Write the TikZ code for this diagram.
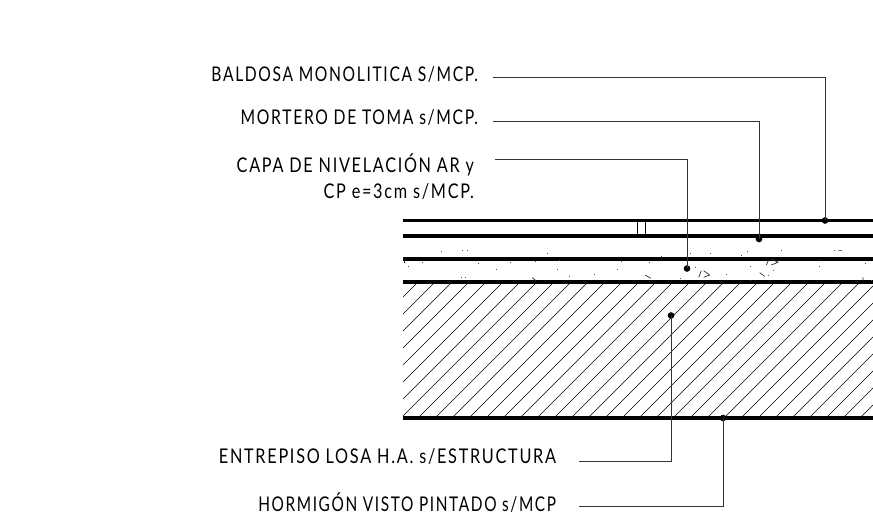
\documentclass[tikz,border=0pt]{standalone}
\usepackage{fontspec}
\newfontfamily\lblfont[LetterSpace=8,FakeStretch=0.76]{Lato}
\tikzset{
  lbl/.style={inner sep=0pt,outer sep=0pt,anchor=base east,transform shape,font=\lblfont\fontsize{15.2}{17}\selectfont,text=black},
  layer/.style={line width=2.6pt,black},
  leader/.style={line width=0.75pt,black!80},
  hatchline/.style={line width=0.5pt,black},
  pin/.style={circle,fill=black,inner sep=0pt,minimum size=5pt,outer sep=0pt},
  speck/.style={line width=0.5pt,black!85}
}
\begin{document}
\begin{tikzpicture}[x=0.75pt,y=-0.75pt]
\useasboundingbox (0,0) rectangle (873,516);
% hatch
\begin{scope}
\clip (403,282) rectangle (873,418);
\foreach \k in {0,...,36} {
  \draw[hatchline] ({418+17*\k},282) -- ({418+17*\k-200},482);
}
\end{scope}
% layers
\foreach \yy in {220.5,236,259,282,418} {
  \draw[layer] (403,\yy) -- (873,\yy);
}
\draw[line width=0.75pt] (637.5,220.5) -- (637.5,236) (645,220.5) -- (645,236);
% specks of the screed (zoom 1)
\begin{scope}[shift={(395,205)},x=0.25pt,y=-0.25pt]
\foreach \a/\b in {139/141,203/137,216/137,458/145,28/172,40/185,81/173,250/176,303/194,345/173,420/171,493/167,486/195,524/215,598/210,668/195,680/170,200/218,210/218} {
  \fill[black!70] (\a-1.5,\b-1.5) rectangle (\a+1.5,\b+1.5);
}
\draw[speck] (26,160) -- (30,175) (412,218) -- (424,228);
\end{scope}
% specks of the screed (zoom 2)
\begin{scope}[shift={(633,205)},x=0.25pt,y=-0.25pt]
\foreach \a/\b in {85/154,173/146,233/147,325/151,342/141,445/138,605/137,49/173,186/189,143/220,281/208,351/186,407/212,420/197,558/185,562/165,696/176,352/226,715/228} {
  \fill[black!70] (\a-1.5,\b-1.5) rectangle (\a+1.5,\b+1.5);
}
\draw[speck] (616,137) -- (627,137) (37,210) -- (53,220) (380,203) -- (395,214) (690,217) -- (690,228);
\draw[speck] (197,217) -- (205,197) (212,197) -- (230,210) -- (212,217);
\draw[speck] (400,180) -- (408,162) (415,162) -- (435,172) -- (415,180);
\end{scope}
% labels
\node[lbl,xscale=1.015] (t1) at (478,82) {BALDOSA MONOLITICA S/MCP.};
\node[lbl,xscale=1.02] (t2) at (478,125) {MORTERO DE TOMA s/MCP.};
\node[lbl,xscale=1.053] (t3) at (474,173) {CAPA DE NIVELACIÓN AR y};
\node[lbl,xscale=1.056] (t3b) at (474,199) {CP e=3cm s/MCP.};
\node[lbl,xscale=1.056] (t4) at (556,463) {ENTREPISO LOSA H.A. s/ESTRUCTURA};
\node[lbl] (t5) at (556,511) {HORMIGÓN VISTO PINTADO s/MCP};
% leaders
\coordinate (s1) at (493,78);
\coordinate (s2) at (493,122);
\coordinate (s3) at (495,160);
\coordinate (s4) at (579,461);
\coordinate (s5) at (579,506);
\node[pin] (p1) at (825,220.5) {};
\node[pin] (p2) at (759,239) {};
\node[pin] (p3) at (687,268.5) {};
\node[pin] (p4) at (671,315.5) {};
\node[pin] (p5) at (723,418) {};
\draw[leader] (s1) -| (p1.center);
\draw[leader] (s2) -| (p2.center);
\draw[leader] (s3) -| (p3.center);
\draw[leader] (s4) -| (p4.center);
\draw[leader] (s5) -| (p5.center);
\end{tikzpicture}
\end{document}
